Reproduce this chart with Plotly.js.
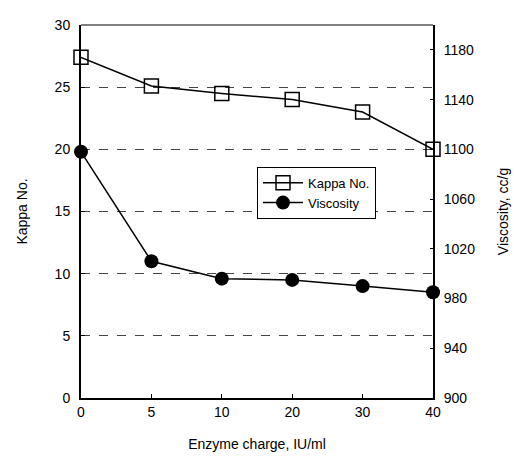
<!DOCTYPE html>
<html><head><meta charset="utf-8">
<script src="https://cdn.plot.ly/plotly-3.0.1.min.js"></script>
<style>html,body{margin:0;padding:0;background:#fff;}#chart{width:514px;height:458px;}</style>
</head><body><div id="chart"></div>
<script>
var charges = ["0", "5", "10", "20", "30", "40"];
var kappa = [27.4, 25.1, 24.5, 24.0, 23.0, 20.0];
var viscosity = [1098, 1010, 996, 995, 990, 985];
var kappaTicks = [0, 5, 10, 15, 20, 25, 30];
var viscTicks = [900, 940, 980, 1020, 1060, 1100, 1140, 1180];

var xpos = charges.map(function(c, i){ return i; });
var font = {family: "Liberation Sans, Arial, sans-serif", size: 14, color: "#000"};

var traces = [
  {x: xpos, y: kappa, name: "Kappa No.", type: "scatter", mode: "lines+markers",
   line: {color: "#000", width: 1.5},
   marker: {symbol: "square-open", size: 14, color: "#000", line: {width: 1.5, color: "#000"}},
   cliponaxis: false},
  {x: xpos, y: viscosity, name: "Viscosity", type: "scatter", mode: "lines+markers", yaxis: "y2",
   line: {color: "#000", width: 1.5},
   marker: {symbol: "circle", size: 14, color: "#000"},
   cliponaxis: false}
];

var layout = {
  width: 514, height: 458,
  margin: {l: 81, r: 81, t: 25, b: 60},
  paper_bgcolor: "#fff", plot_bgcolor: "#fff",
  font: font,
  showlegend: true,
  legend: {x: 0.5, y: 0.62, xanchor: "left", yanchor: "top",
           bordercolor: "#000", borderwidth: 1, bgcolor: "#fff",
           font: {family: "Liberation Sans, Arial, sans-serif", size: 13, color: "#000"},
           itemwidth: 40, tracegroupgap: 0},
  xaxis: {
    range: [0, 5], tickmode: "array", tickvals: xpos, ticktext: charges,
    showgrid: false, zeroline: false,
    showline: true, linecolor: "#000", linewidth: 2,
    ticks: "inside", ticklen: 4, tickcolor: "#000",
    tickfont: font,
    title: {text: "Enzyme charge, IU/ml", font: font, standoff: 20}
  },
  yaxis: {
    range: [0, 30], tickmode: "array", tickvals: kappaTicks,
    showgrid: true, gridcolor: "#444", griddash: "dash", gridwidth: 1,
    zeroline: false,
    showline: true, linecolor: "#000", linewidth: 2,
    ticks: "inside", ticklen: 4, tickcolor: "#000",
    tickfont: font, ticklabelstandoff: 6,
    title: {text: "Kappa No.", font: font, standoff: 24}
  },
  yaxis2: {
    range: [900, 1200], overlaying: "y", side: "right",
    tickmode: "array", tickvals: viscTicks,
    showgrid: false, zeroline: false,
    showline: true, linecolor: "#000", linewidth: 2,
    ticks: "inside", ticklen: 3, tickcolor: "#000",
    tickfont: font, ticklabelstandoff: 6,
    title: {text: "Viscosity, cc/g", font: font, standoff: 24}
  },
  shapes: [
    {type: "line", xref: "paper", yref: "paper", x0: 0, x1: 1, y0: 1, y1: 1,
     line: {color: "#000", width: 1}}
  ]
};

Plotly.newPlot("chart", traces, layout, {displayModeBar: false, staticPlot: true});
</script>
</body></html>
